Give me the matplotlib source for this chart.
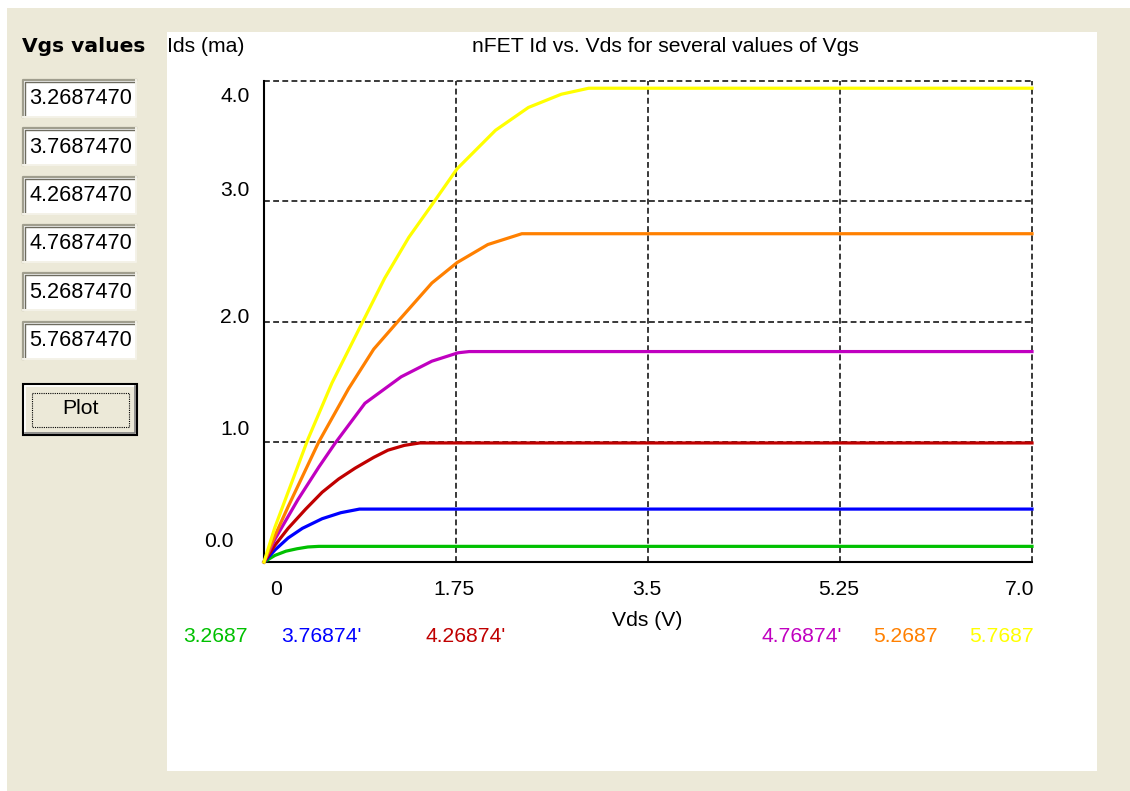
import matplotlib
matplotlib.use("Agg")
import matplotlib.pyplot as plt
from matplotlib.patches import Rectangle

plt.rcParams['font.family'] = ['Liberation Sans', 'DejaVu Sans']

# Vgs values typed into the boxes on the left
vgs_values = ['3.2687470', '3.7687470', '4.2687470', '4.7687470', '5.2687470', '5.7687470']
# labels printed under the chart (truncated by the original program)
curve_labels = ['3.2687', "3.76874'", "4.26874'", "4.76874'", '5.2687', '5.7687']
curve_colors = ['#00C000', '#0000FF', '#C00000', '#C000C0', '#FF8000', '#FFFF00']

# Id (mA) vs Vds (V)
vds_green = [0, 0.1, 0.2, 0.3, 0.4, 0.5, 7.0]
ids_green = [0, 0.055, 0.09, 0.11, 0.125, 0.13, 0.13]

vds_blue = [0, 0.1, 0.22, 0.35, 0.53, 0.7, 0.87, 7.0]
ids_blue = [0, 0.10, 0.20, 0.28, 0.36, 0.41, 0.44, 0.44]

vds_red = [0, 0.1, 0.22, 0.38, 0.53, 0.68, 0.83, 1.0, 1.13, 1.28, 1.42, 7.0]
ids_red = [0, 0.14, 0.28, 0.44, 0.58, 0.69, 0.78, 0.87, 0.93, 0.97, 0.99, 0.99]

vds_magenta = [0, 0.1, 0.31, 0.5, 0.65, 0.92, 1.25, 1.53, 1.77, 1.87, 7.0]
ids_magenta = [0, 0.19, 0.52, 0.79, 0.99, 1.32, 1.54, 1.67, 1.74, 1.75, 1.75]

vds_orange = [0, 0.1, 0.22, 0.5, 0.77, 1.0, 1.22, 1.53, 1.76, 2.04, 2.35, 7.0]
ids_orange = [0, 0.22, 0.46, 1.0, 1.44, 1.77, 2.0, 2.32, 2.49, 2.64, 2.73, 2.73]

vds_yellow = [0, 0.1, 0.4, 0.62, 0.89, 1.10, 1.32, 1.53, 1.76, 2.11, 2.41, 2.71, 2.96, 7.0]
ids_yellow = [0, 0.29, 1.02, 1.49, 1.98, 2.36, 2.70, 2.97, 3.27, 3.59, 3.78, 3.89, 3.94, 3.94]

curves = [(vds_green, ids_green), (vds_blue, ids_blue), (vds_red, ids_red),
          (vds_magenta, ids_magenta), (vds_orange, ids_orange), (vds_yellow, ids_yellow)]

x_ticks = [0, 1.75, 3.5, 5.25, 7.0]
x_tick_labels = ['0', '1.75', '3.5', '5.25', '7.0']
y_ticks = [0, 1, 2, 3, 4]
y_tick_labels = ['0.0', '1.0', '2.0', '3.0', '4.0']

W, H = 1130, 791
BEIGE = '#ECE9D8'
FS = 15.2

fig = plt.figure(figsize=(W / 100, H / 100), dpi=100)
fig.patch.set_facecolor('white')

# --- window / dialog background, drawn in pixel coordinates ---
bg = fig.add_axes([0, 0, 1, 1], zorder=0)
bg.set_xlim(0, W)
bg.set_ylim(H, 0)
bg.axis('off')
bg.add_patch(Rectangle((7, 8), W - 7, H - 8, facecolor=BEIGE, edgecolor='none'))
bg.add_patch(Rectangle((167, 32), 930, 739, facecolor='white', edgecolor='none'))

bg.text(22, 46, 'Vgs values', fontsize=14.6, fontweight='bold', family='DejaVu Sans',
        va='center', ha='left', color='black')
bg.text(167, 46, 'Ids (ma)', fontsize=FS, va='center', ha='left')
bg.text(665, 46, 'nFET Id vs. Vds for several values of Vgs', fontsize=FS, va='center', ha='center')
bg.text(647, 620, 'Vds (V)', fontsize=FS, va='center', ha='center')

# edit boxes
for i, v in enumerate(vgs_values):
    y0 = 80 + i * 48.3
    bg.add_patch(Rectangle((23, y0), 113, 37, facecolor='white', edgecolor='none'))
    bg.plot([23, 23, 136], [y0 + 37, y0, y0], color='#A09E8E', lw=1.6)
    bg.plot([25, 25, 134], [y0 + 35, y0 + 2, y0 + 2], color='#6E6C60', lw=1.0)
    bg.plot([23, 136, 136], [y0 + 37, y0 + 37, y0], color='#F4F2E8', lw=1.4)
    bg.text(29, y0 + 19, v, fontsize=15.6, va='center', ha='left')

# Plot button
bg.add_patch(Rectangle((23, 384), 114, 51, facecolor=BEIGE, edgecolor='black', lw=1.5))
bg.plot([25, 25, 135], [433, 386, 386], color='white', lw=1.2)
bg.plot([25, 135, 135], [433, 433, 386], color='#808080', lw=1.2)
bg.add_patch(Rectangle((32, 393), 97, 34, facecolor='none', edgecolor='black',
                       lw=0.8, linestyle=(0, (1, 1))))
bg.text(80, 409, 'Plot', fontsize=FS, va='center', ha='center')

# curve labels under the chart
label_x = [183, 281, 425, 762, 873, 969]
for lx, lab, c in zip(label_x, curve_labels, curve_colors):
    bg.text(lx, 637, lab, fontsize=FS, color=c, va='center', ha='left')

# --- the chart itself ---
left, right, top, bottom = 264, 1032, 81, 562
ax = fig.add_axes([left / W, 1 - bottom / H, (right - left) / W, (bottom - top) / H], zorder=1)
ax.patch.set_alpha(0)
ax.set_xlim(0, 7.0)
ax.set_ylim(0, 4.0)
ax.set_xticks([])
ax.set_yticks([])
for s in ['top', 'right']:
    ax.spines[s].set_visible(False)
for s in ['left', 'bottom']:
    ax.spines[s].set_linewidth(1.5)
    ax.spines[s].set_color('black')

dash = (0, (3.5, 2))
for yv in y_ticks[1:]:
    ax.plot([0, 7.0], [yv, yv], color='#181818', lw=1.2, ls=dash, clip_on=False, zorder=1)
for xv in x_ticks[1:]:
    ax.plot([xv, xv], [0, 4.0], color='#181818', lw=1.2, ls=dash, clip_on=False, zorder=1)

for (vx, vy), c in zip(curves, curve_colors):
    ax.plot(vx, vy, color=c, lw=2.3, clip_on=False, zorder=3)

# tick labels (placed the way the original program draws them)
ylab_y = [0.167, 1.10, 2.03, 3.09, 3.875]
ylab_x = [-0.040, -0.019, -0.019, -0.019, -0.019]
for lab, yy, xx in zip(y_tick_labels, ylab_y, ylab_x):
    ax.text(xx, yy, lab, transform=ax.get_yaxis_transform(), fontsize=FS,
            ha='right', va='center')

xlab_x = [0.11, 1.73, 3.49, 5.24, 7.02]
xlab_ha = ['center', 'center', 'center', 'center', 'right']
for lab, xx, ha in zip(x_tick_labels, xlab_x, xlab_ha):
    ax.text(xx, -0.058, lab, transform=ax.get_xaxis_transform(), fontsize=FS,
            ha=ha, va='center')

fig.savefig('out.png', dpi=100, facecolor=fig.get_facecolor())
